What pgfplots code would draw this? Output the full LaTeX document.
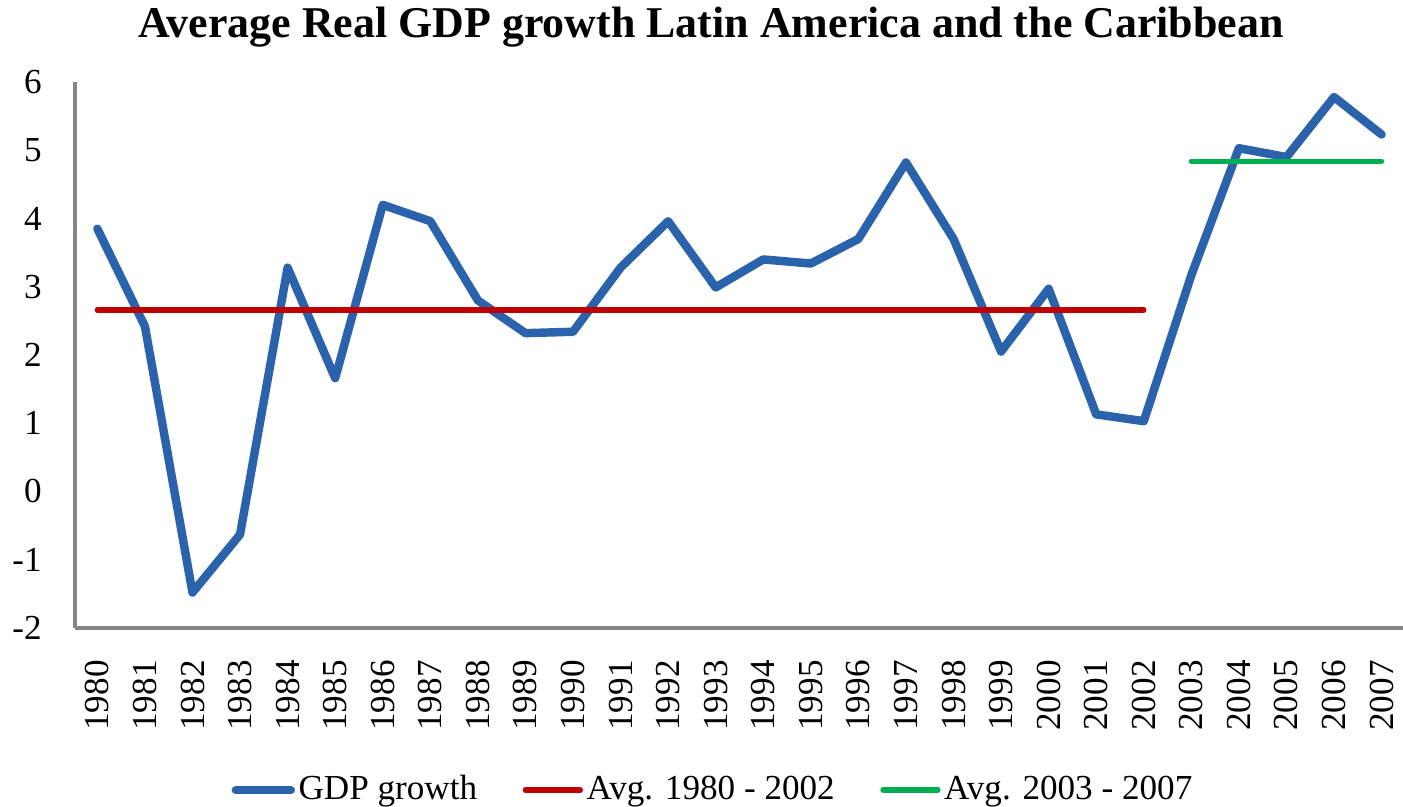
\documentclass[border=0pt]{standalone}
\usepackage{fontspec}
\setmainfont{Liberation Serif}
\usepackage{pgfplots}
\pgfplotsset{compat=1.18}
\usepackage{pgfplotstable}

\definecolor{gdpblue}{RGB}{42,99,171}
\definecolor{avgred}{RGB}{192,0,0}
\definecolor{avggreen}{RGB}{0,176,80}
\definecolor{axisgray}{RGB}{134,134,134}

% year index (0 = 1980), growth in percent
\pgfplotstableread{
x y
0 3.85
1 2.42
2 -1.48
3 -0.63
4 3.28
5 1.66
6 4.20
7 3.96
8 2.80
9 2.32
10 2.34
11 3.28
12 3.96
13 2.99
14 3.40
15 3.34
16 3.70
17 4.82
18 3.70
19 2.05
20 2.97
21 1.13
22 1.03
23 3.17
24 5.03
25 4.90
26 5.78
27 5.23
}\gdp

\pgfplotstableread{
x y
0 2.66
22 2.66
}\avgA

\pgfplotstableread{
x y
23 4.84
27 4.84
}\avgB

\begin{document}
\begin{tikzpicture}
\begin{axis}[
    name=ax,
    scale only axis,
    width=13.28cm, height=5.46cm,
    xmin=-0.47, xmax=27.45,
    ymin=-2, ymax=6,
    ytick={-2,...,6},
    xtick={0,...,27},
    xticklabels={1980,1981,1982,1983,1984,1985,1986,1987,1988,1989,1990,1991,1992,1993,1994,1995,1996,1997,1998,1999,2000,2001,2002,2003,2004,2005,2006,2007},
    major tick length=0pt,
    axis x line*=bottom,
    axis y line*=left,
    axis line style={axisgray, line width=0.9pt},
    tick label style={font=\fontsize{10}{12}\selectfont},
    /pgf/number format/assume math mode=true,
    xticklabel style={rotate=90, anchor=east, xshift=-0.2cm},
    yticklabel style={xshift=-0.21cm},
    legend columns=3,
    legend style={at={(0.481,0)}, anchor=center, yshift=-1.62cm, draw=none,
        font=\fontsize{10}{12}\selectfont,
        /tikz/every even column/.append style={column sep=0.42cm},
        nodes={inner sep=1pt}},
    legend image code/.code={\draw[#1, line cap=round] (0cm,0cm) -- (0.55cm,0cm);},
]
\addplot[gdpblue, line width=2.4pt, line join=round, line cap=round] table {\gdp};
\addlegendentry{GDP growth}
\addplot[avgred, line width=1.5pt, line cap=round] table {\avgA};
\addlegendentry{Avg. 1980 - 2002}
\addplot[avggreen, line width=1.5pt, line cap=round] table {\avgB};
\addlegendentry{Avg. 2003 - 2007}
\end{axis}
\node[anchor=base, font=\fontsize{12.5}{15}\selectfont\bfseries]
    at ([xshift=6.36cm, yshift=0.44cm]ax.north west)
    {Average Real GDP growth Latin America and the Caribbean};
\pgfresetboundingbox
\path ([xshift=-0.75cm, yshift=-1.79cm]ax.south west) rectangle ([yshift=0.82cm]ax.north east);
\end{tikzpicture}
\end{document}
